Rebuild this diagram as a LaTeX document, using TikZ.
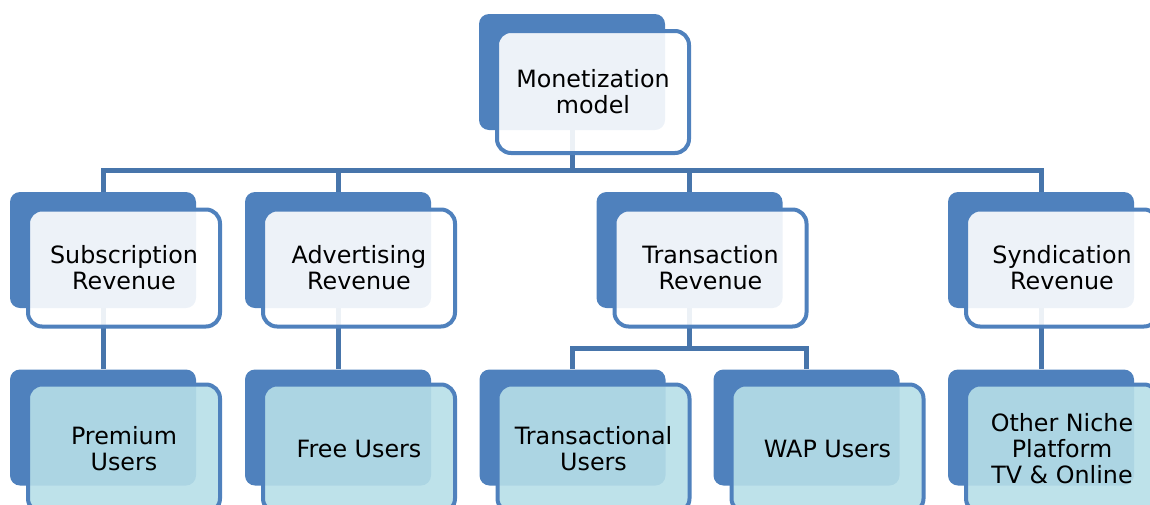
\documentclass[tikz,border=0pt]{standalone}
\usepackage{fontspec}
\setmainfont{DejaVu Sans}
\definecolor{accent}{HTML}{4F81BD}
\definecolor{connblue}{HTML}{4775AB}
\definecolor{leaf}{HTML}{B7DFE8}
\tikzset{
	backbox/.style={fill=accent, rounded corners=5pt, inner sep=0pt,
		minimum width=93pt, minimum height=58pt},
	frontbox/.style={draw=accent, line width=2pt, fill=white, fill opacity=0.9,
		text opacity=1, rounded corners=7pt, inner sep=0pt, align=center,
		minimum width=96pt, minimum height=58.5pt,
		font=\fontsize{11.9}{13}\selectfont},
	topbox/.style={frontbox, minimum height=61pt},
	leafbox/.style={frontbox, fill=leaf, minimum height=64pt},
	conn/.style={draw=connblue, line width=2.5pt}
}
\begin{document}
\begin{tikzpicture}[x=0.5pt, y=-0.5pt]
	\useasboundingbox (0,0) rectangle (1150,504);
	\clip (0,0) rectangle (1150,504);
	% back shapes
	\foreach \n/\x/\y in {top/572/72, sub/103/250, adv/338/250, trans/689.5/250,
		synd/1041/250, prem/103/427.5, free/338/427.5, transl/572.5/427.5,
		wap/806.5/427.5, other/1041/427.5} {
		\node[backbox] (\n-b) at (\x,\y) {};
	}
	% connectors
	\coordinate (bus) at (572,170);
	\coordinate (tbus) at (689.5,348);
	\draw[conn] (top-b.south) -- (bus);
	\foreach \n in {sub,adv,trans,synd} {
		\draw[conn] (bus) -| (\n-b.north);
	}
	\draw[conn] (sub-b.south) -- (prem-b.north);
	\draw[conn] (adv-b.south) -- (free-b.north);
	\draw[conn] (synd-b.south) -- (other-b.north);
	\draw[conn] (trans-b.south) -- (tbus);
	\draw[conn] (tbus) -| (transl-b.north);
	\draw[conn] (tbus) -| (wap-b.north);
	% front shapes
	\foreach \n/\s/\dy/\t in {top/topbox/20/{Monetization\\model},
		sub/frontbox/18/{Subscription\\Revenue}, adv/frontbox/18/{Advertising\\Revenue},
		trans/frontbox/18/{Transaction\\Revenue}, synd/frontbox/18/{Syndication\\Revenue},
		prem/leafbox/21/{Premium\\Users}, free/leafbox/21/{Free Users},
		transl/leafbox/21/{Transactional\\Users}, wap/leafbox/21/{WAP Users},
		other/leafbox/21/{Other Niche\\Platform\\TV \& Online}} {
		\node[\s] (\n) at ([shift={(21,\dy)}]\n-b.center) {\t};
	}
\end{tikzpicture}
\end{document}
